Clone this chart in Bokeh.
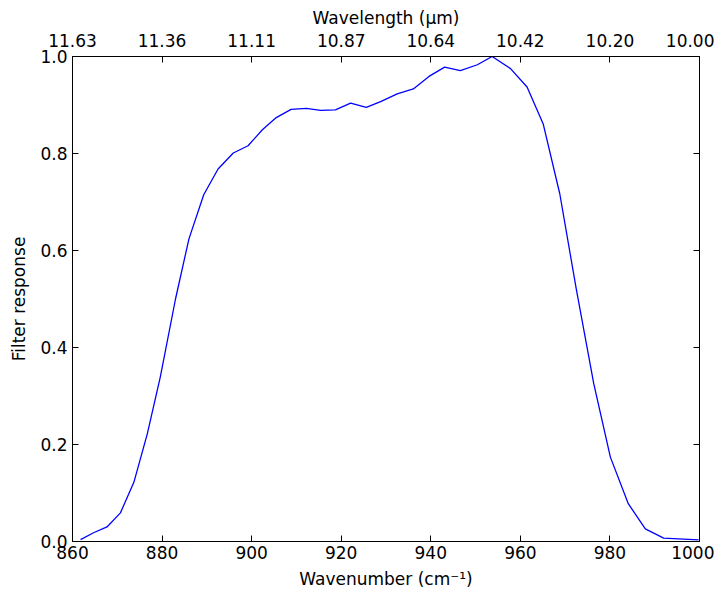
from bokeh.plotting import figure
from bokeh.models import Range1d, LinearAxis, FixedTicker
from bokeh.embed import file_html
from bokeh.resources import INLINE

# Filter response data
wavenumber = [861.8, 864.7, 867.7, 870.7, 873.7, 876.7, 879.6, 883.0, 886.0, 889.3,
              892.5, 895.9, 899.2, 902.4, 905.5, 908.8, 912.2, 915.4, 918.7, 922.1,
              925.6, 928.8, 932.5, 936.1, 939.6, 943.1, 946.6, 950.4, 953.7, 957.8,
              961.5, 965.1, 968.8, 972.5, 976.4, 980.1, 984.1, 987.9, 992.0, 999.8]
response = [0.004, 0.018, 0.030, 0.059, 0.122, 0.222, 0.339, 0.500, 0.624, 0.715,
            0.768, 0.801, 0.816, 0.849, 0.874, 0.891, 0.893, 0.889, 0.890, 0.904,
            0.895, 0.907, 0.923, 0.933, 0.959, 0.978, 0.971, 0.983, 1.000, 0.975,
            0.937, 0.861, 0.717, 0.520, 0.325, 0.174, 0.078, 0.026, 0.007, 0.0035]

x_ticks = [860, 880, 900, 920, 940, 960, 980, 1000]
x_tick_labels = ["860", "880", "900", "920", "940", "960", "980", "1000"]
top_tick_labels = ["11.63", "11.36", "11.11", "10.87", "10.64", "10.42", "10.20", "10.00"]
y_ticks = [0.0, 0.2, 0.4, 0.6, 0.8, 1.0]
y_tick_labels = ["0.0", "0.2", "0.4", "0.6", "0.8", "1.0"]

FONT = "DejaVu Sans"
FS = "17px"

p = figure(width=714, height=592, output_backend="svg", toolbar_location=None,
           x_range=Range1d(860, 1000), y_range=Range1d(0, 1),
           x_axis_label="Wavenumber (cm\u207b\u00b9)", y_axis_label="Filter response",
           min_border_left=72, min_border_right=15, min_border_top=56, min_border_bottom=51)

p.line(wavenumber, response, line_color="#0000ff", line_width=1.3)

p.grid.visible = False
p.background_fill_color = "white"
p.border_fill_color = "white"
p.outline_line_color = "black"
p.outline_line_width = 1

top = LinearAxis(axis_label="Wavelength (\u03bcm)")
right = LinearAxis()
p.add_layout(top, "above")
p.add_layout(right, "right")

for ax in p.xaxis:
    ax.ticker = FixedTicker(ticks=x_ticks)
for ax in p.yaxis:
    ax.ticker = FixedTicker(ticks=y_ticks)

p.below[0].major_label_overrides = {t: l for t, l in zip(x_ticks, x_tick_labels)}
top.major_label_overrides = {t: l for t, l in zip(x_ticks, top_tick_labels)}
p.left[0].major_label_overrides = {t: l for t, l in zip(y_ticks, y_tick_labels)}

for ax in p.axis:
    ax.major_tick_in = 6
    ax.major_tick_out = 0
    ax.minor_tick_line_color = None
    ax.axis_line_color = "black"
    ax.major_tick_line_color = "black"
    ax.major_label_text_font = FONT
    ax.major_label_text_font_size = FS
    ax.major_label_text_color = "black"
    ax.axis_label_text_font = FONT
    ax.axis_label_text_font_size = FS
    ax.axis_label_text_font_style = "normal"
    ax.axis_label_text_color = "black"

p.below[0].major_label_standoff = 4
p.below[0].axis_label_standoff = 7
top.major_label_standoff = 10
top.axis_label_standoff = 3
p.left[0].major_label_standoff = 5
p.left[0].axis_label_standoff = 8
right.major_label_text_font_size = "0px"
right.major_label_text_alpha = 0
right.major_label_standoff = 0

open("out.html", "w").write(file_html(p, INLINE))
